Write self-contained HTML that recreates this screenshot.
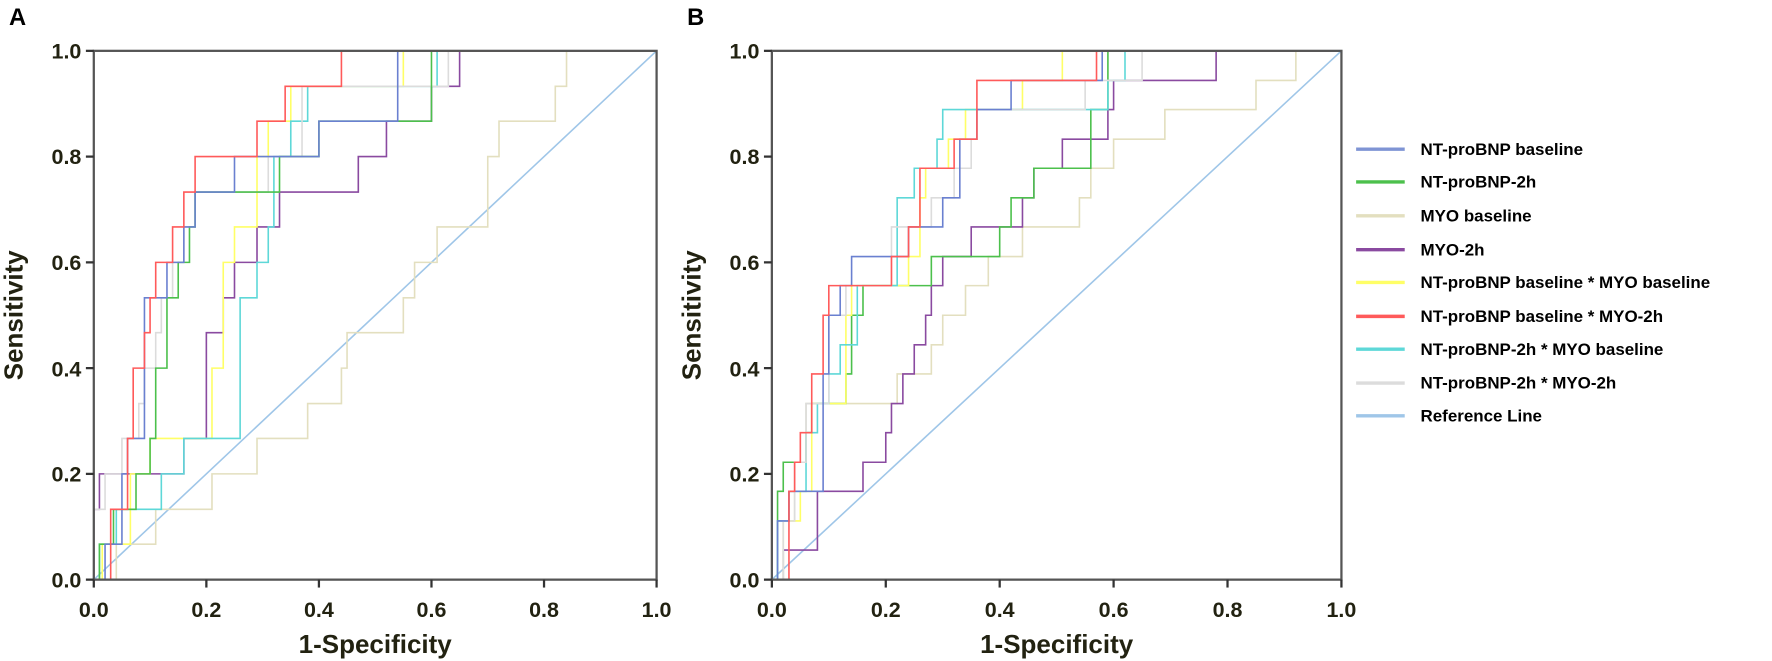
<!DOCTYPE html>
<html><head><meta charset="utf-8"><style>
body{margin:0;background:#fff}
svg{display:block}
svg text{font-family:"Liberation Sans",sans-serif;font-weight:bold;fill:#222211}
path{fill:none;stroke-width:1.6;vector-effect:non-scaling-stroke}
</style></head><body>
<svg width="1772" height="661" viewBox="0 0 1568 585" preserveAspectRatio="none" xmlns="http://www.w3.org/2000/svg">
<text x="8" y="22" font-size="21" style="fill:#000">A</text>
<text x="608" y="22" font-size="21" style="fill:#000">B</text>

<!-- Panel A -->
<g transform="translate(83 513) scale(498 -468)">
<path stroke="#9fc6e8" d="M0 0 L1 1"/>
<path stroke="#e3dfbf" d="M0 0 H.04 V.067 H.11 V.133 H.21 V.2 H.29 V.267 H.38 V.333 H.44 V.4 H.45 V.467 H.55 V.533 H.57 V.6 H.61 V.667 H.70 V.8 H.72 V.867 H.82 V.933 H.84 V1 H1"/>
<path stroke="#8a4aa0" d="M0 0 V.133 H.01 V.2 H.16 V.267 H.20 V.467 H.23 V.533 H.25 V.6 H.29 V.667 H.33 V.733 H.47 V.8 H.52 V.867 H.60 V.933 H.65 V1 H1"/>
<path stroke="#ffff66" d="M0 0 H.015 V.067 H.065 V.2 H.10 V.267 H.21 V.4 H.23 V.6 H.25 V.667 H.29 V.8 H.31 V.867 H.35 V.933 H.55 V1 H1"/>
<path stroke="#5ed8d8" d="M0 0 H.01 V.067 H.04 V.133 H.12 V.2 H.16 V.267 H.26 V.533 H.29 V.6 H.31 V.667 H.32 V.8 H.35 V.867 H.38 V.933 H.61 V1 H1"/>
<path stroke="#dcdcdc" d="M0 0 V.133 H.02 V.2 H.05 V.267 H.08 V.333 H.09 V.4 H.11 V.467 H.12 V.533 H.14 V.6 H.16 V.667 H.18 V.733 H.31 V.8 H.37 V.933 H.63 V1 H1"/>
<path stroke="#4cc04c" d="M0 0 H.01 V.067 H.035 V.133 H.075 V.2 H.10 V.267 H.11 V.4 H.13 V.533 H.15 V.6 H.17 V.667 H.18 V.733 H.33 V.8 H.40 V.867 H.60 V1 H1"/>
<path stroke="#6a80d0" d="M0 0 H.02 V.067 H.05 V.2 H.06 V.267 H.09 V.533 H.13 V.6 H.16 V.667 H.18 V.733 H.25 V.8 H.40 V.867 H.54 V1 H1"/>
<path stroke="#ff5a5a" d="M0 0 H.03 V.133 H.06 V.267 H.07 V.4 H.09 V.467 H.10 V.533 H.11 V.6 H.14 V.667 H.16 V.733 H.18 V.8 H.29 V.867 H.34 V.933 H.44 V1 H1"/>
</g>
<rect x="83" y="45" width="498" height="468" fill="none" stroke="#555" stroke-width="2"/>
<g stroke="#333" stroke-width="2">
<line x1="76" y1="45" x2="83" y2="45"/><line x1="76" y1="138.6" x2="83" y2="138.6"/><line x1="76" y1="232.2" x2="83" y2="232.2"/><line x1="76" y1="325.8" x2="83" y2="325.8"/><line x1="76" y1="419.4" x2="83" y2="419.4"/><line x1="76" y1="513" x2="83" y2="513"/>
<line x1="83" y1="513" x2="83" y2="520"/><line x1="182.6" y1="513" x2="182.6" y2="520"/><line x1="282.2" y1="513" x2="282.2" y2="520"/><line x1="381.8" y1="513" x2="381.8" y2="520"/><line x1="481.4" y1="513" x2="481.4" y2="520"/><line x1="581" y1="513" x2="581" y2="520"/>
</g>
<g font-size="19" text-anchor="end">
<text x="72" y="52">1.0</text><text x="72" y="145">0.8</text><text x="72" y="239">0.6</text><text x="72" y="333">0.4</text><text x="72" y="426">0.2</text><text x="72" y="520">0.0</text>
</g>
<g font-size="19" text-anchor="middle">
<text x="83" y="546">0.0</text><text x="182.6" y="546">0.2</text><text x="282.2" y="546">0.4</text><text x="381.8" y="546">0.6</text><text x="481.4" y="546">0.8</text><text x="581" y="546">1.0</text>
</g>
<text x="332" y="578" font-size="23" text-anchor="middle">1-Specificity</text>
<text transform="translate(20 279) rotate(-90)" font-size="23" text-anchor="middle">Sensitivity</text>

<!-- Panel B -->
<g transform="translate(683 513) scale(504 -468)">
<path stroke="#9fc6e8" d="M0 0 L1 1"/>
<path stroke="#e3dfbf" d="M0 0 H.02 V.111 H.04 V.222 H.06 V.333 H.22 V.389 H.28 V.444 H.30 V.5 H.34 V.556 H.38 V.611 H.44 V.667 H.54 V.722 H.56 V.778 H.60 V.833 H.69 V.889 H.85 V.944 H.92 V1 H1"/>
<path stroke="#8a4aa0" d="M0 0 H.02 V.056 H.08 V.167 H.16 V.222 H.20 V.278 H.21 V.333 H.23 V.389 H.25 V.444 H.27 V.5 H.28 V.556 H.30 V.611 H.35 V.667 H.44 V.722 H.46 V.778 H.51 V.833 H.59 V.889 H.60 V.944 H.78 V1 H1"/>
<path stroke="#4cc04c" d="M0 0 H.01 V.167 H.02 V.222 H.06 V.278 H.07 V.333 H.13 V.389 H.14 V.5 H.16 V.556 H.28 V.611 H.40 V.667 H.42 V.722 H.46 V.778 H.56 V.889 H.59 V1 H1"/>
<path stroke="#ffff66" d="M0 0 H.02 V.111 H.05 V.167 H.07 V.333 H.13 V.5 H.14 V.556 H.24 V.611 H.26 V.722 H.27 V.778 H.31 V.833 H.34 V.889 H.44 V.944 H.51 V1 H1"/>
<path stroke="#5ed8d8" d="M0 0 H.01 V.111 H.03 V.167 H.06 V.278 H.08 V.333 H.10 V.389 H.12 V.444 H.15 V.556 H.22 V.722 H.25 V.778 H.29 V.833 H.30 V.889 H.59 V.944 H.62 V1 H1"/>
<path stroke="#dcdcdc" d="M0 0 H.02 V.111 H.04 V.222 H.06 V.333 H.10 V.5 H.13 V.556 H.21 V.667 H.28 V.722 H.32 V.778 H.35 V.833 H.36 V.889 H.55 V.944 H.65 V1 H1"/>
<path stroke="#6a80d0" d="M0 0 H.01 V.111 H.03 V.167 H.09 V.389 H.10 V.5 H.12 V.556 H.14 V.611 H.24 V.667 H.30 V.722 H.33 V.833 H.36 V.889 H.42 V.944 H.58 V1 H1"/>
<path stroke="#ff5a5a" d="M0 0 H.03 V.167 H.04 V.222 H.05 V.278 H.07 V.389 H.09 V.5 H.10 V.556 H.21 V.611 H.24 V.667 H.26 V.778 H.32 V.833 H.36 V.944 H.57 V1 H1"/>
</g>
<rect x="683" y="45" width="504" height="468" fill="none" stroke="#555" stroke-width="2"/>
<g stroke="#333" stroke-width="2">
<line x1="676" y1="45" x2="683" y2="45"/><line x1="676" y1="138.6" x2="683" y2="138.6"/><line x1="676" y1="232.2" x2="683" y2="232.2"/><line x1="676" y1="325.8" x2="683" y2="325.8"/><line x1="676" y1="419.4" x2="683" y2="419.4"/><line x1="676" y1="513" x2="683" y2="513"/>
<line x1="683" y1="513" x2="683" y2="520"/><line x1="783.8" y1="513" x2="783.8" y2="520"/><line x1="884.6" y1="513" x2="884.6" y2="520"/><line x1="985.4" y1="513" x2="985.4" y2="520"/><line x1="1086.2" y1="513" x2="1086.2" y2="520"/><line x1="1187" y1="513" x2="1187" y2="520"/>
</g>
<g font-size="19" text-anchor="end">
<text x="672" y="52">1.0</text><text x="672" y="145">0.8</text><text x="672" y="239">0.6</text><text x="672" y="333">0.4</text><text x="672" y="426">0.2</text><text x="672" y="520">0.0</text>
</g>
<g font-size="19" text-anchor="middle">
<text x="683" y="546">0.0</text><text x="783.8" y="546">0.2</text><text x="884.6" y="546">0.4</text><text x="985.4" y="546">0.6</text><text x="1086.2" y="546">0.8</text><text x="1187" y="546">1.0</text>
</g>
<text x="935" y="578" font-size="23" text-anchor="middle">1-Specificity</text>
<text transform="translate(620 279) rotate(-90)" font-size="23" text-anchor="middle">Sensitivity</text>

<!-- Legend -->
<g stroke-width="3">
<line x1="1200" y1="132" x2="1243" y2="132" stroke="#7f94d4"/>
<line x1="1200" y1="161" x2="1243" y2="161" stroke="#4cc04c"/>
<line x1="1200" y1="191" x2="1243" y2="191" stroke="#e3dfbf"/>
<line x1="1200" y1="221" x2="1243" y2="221" stroke="#8a4aa0"/>
<line x1="1200" y1="250" x2="1243" y2="250" stroke="#ffff66"/>
<line x1="1200" y1="280" x2="1243" y2="280" stroke="#ff5a5a"/>
<line x1="1200" y1="309" x2="1243" y2="309" stroke="#5ed8d8"/>
<line x1="1200" y1="339" x2="1243" y2="339" stroke="#dcdcdc"/>
<line x1="1200" y1="368" x2="1243" y2="368" stroke="#9fc6e8"/>
</g>
<g font-size="15">
<text x="1257" y="137" style="fill:#000">NT-proBNP baseline</text>
<text x="1257" y="166" style="fill:#000">NT-proBNP-2h</text>
<text x="1257" y="196" style="fill:#000">MYO baseline</text>
<text x="1257" y="226" style="fill:#000">MYO-2h</text>
<text x="1257" y="255" style="fill:#000">NT-proBNP baseline * MYO baseline</text>
<text x="1257" y="285" style="fill:#000">NT-proBNP baseline * MYO-2h</text>
<text x="1257" y="314" style="fill:#000">NT-proBNP-2h * MYO baseline</text>
<text x="1257" y="344" style="fill:#000">NT-proBNP-2h * MYO-2h</text>
<text x="1257" y="373" style="fill:#000">Reference Line</text>
</g>
</svg>
</body></html>
